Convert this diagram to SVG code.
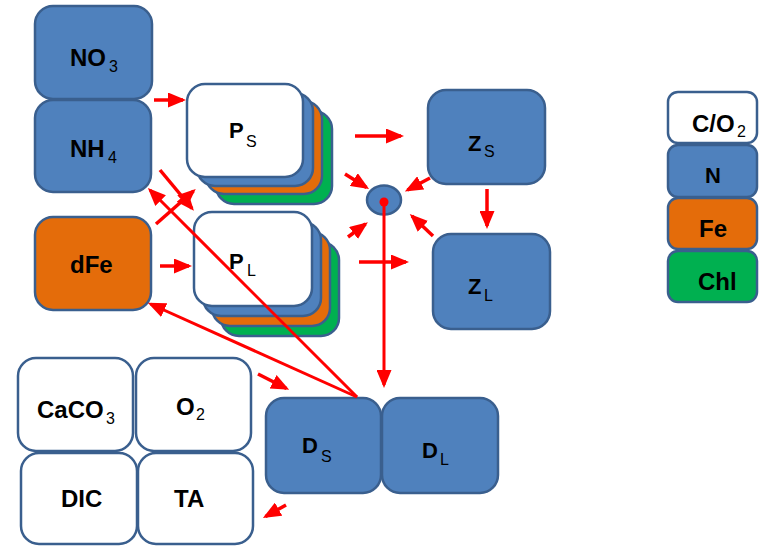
<svg xmlns="http://www.w3.org/2000/svg" width="769" height="546" viewBox="0 0 769 546">
<defs>
<style>
.b{fill:#4F81BD;stroke:#3A5F8E;stroke-width:2.5}
.w{fill:#FFFFFF;stroke:#3A5F8E;stroke-width:2.5}
.o{fill:#E46C0A;stroke:#3A5F8E;stroke-width:2.5}
.g{fill:#00B050;stroke:#3A5F8E;stroke-width:2.5}
.t{font-family:"Liberation Sans",Arial,sans-serif;font-weight:bold;font-size:24px;fill:#000}
.tp{font-family:"Liberation Sans",Arial,sans-serif;font-weight:bold;font-size:22px;fill:#000}
.s{font-weight:normal;font-size:16px}
.a{stroke:#FF0000;stroke-width:3.5;fill:none;marker-end:url(#ah)}
.l{stroke:#FF0000;stroke-width:3;fill:none;marker-end:url(#ah)}
</style>
<marker id="ah" markerUnits="userSpaceOnUse" markerWidth="18" markerHeight="15" refX="15" refY="7.5" orient="auto">
<path d="M0,0 L18,7.5 L0,15 z" fill="#FF0000"/>
</marker>
</defs>
<rect width="769" height="546" fill="#FFFFFF"/>

<g id="NO3"><rect class="b" x="35" y="6" width="117" height="93" rx="18"/><text class="t" x="70" y="66">NO<tspan class="s" x="109" y="72">3</tspan></text></g>
<g id="NH4"><rect class="b" x="35" y="100" width="116" height="92" rx="18"/><text class="t" x="70" y="157">NH<tspan class="s" x="108" y="163">4</tspan></text></g>
<g id="dFe"><rect class="o" x="35" y="217" width="116" height="93" rx="18"/><text class="t" x="70" y="273">dFe</text></g>

<g id="PS">
<rect class="g" x="216" y="111" width="116" height="93" rx="18"/>
<rect class="o" x="206" y="101" width="116" height="93" rx="18"/>
<rect class="b" x="197" y="93" width="116" height="93" rx="18"/>
<rect class="w" x="187" y="84" width="116" height="93" rx="18"/>
<text class="tp" x="229" y="138">P<tspan class="s" x="246" y="147">S</tspan></text>
</g>
<g id="PL">
<rect class="g" x="221" y="242" width="118" height="94" rx="18"/>
<rect class="o" x="212" y="232" width="118" height="94" rx="18"/>
<rect class="b" x="203" y="222" width="118" height="94" rx="18"/>
<rect class="w" x="194" y="212" width="118" height="94" rx="18"/>
<text class="tp" x="229" y="269">P<tspan class="s" x="247" y="276">L</tspan></text>
</g>

<g id="ZS"><rect class="b" x="428" y="90" width="117" height="94" rx="18"/><text class="tp" x="468" y="151">Z<tspan class="s" x="484" y="157">S</tspan></text></g>
<g id="ZL"><rect class="b" x="433" y="234" width="117" height="95" rx="18"/><text class="tp" x="468" y="294">Z<tspan class="s" x="484" y="301">L</tspan></text></g>

<g id="pool"><ellipse cx="384" cy="200" rx="17" ry="14.5" class="b"/><circle cx="384" cy="202" r="4.5" fill="#FF0000"/></g>

<g id="DS"><rect class="b" x="266" y="398" width="115" height="95" rx="18"/><text class="tp" x="302" y="453">D<tspan class="s" x="321" y="462">S</tspan></text></g>
<g id="DL"><rect class="b" x="382" y="398" width="116" height="95" rx="18"/><text class="tp" x="422" y="458">D<tspan class="s" x="440" y="465">L</tspan></text></g>

<g id="CaCO3"><rect class="w" x="18" y="358" width="115" height="93" rx="18"/><text class="t" x="37" y="418">CaCO<tspan class="s" x="106" y="424">3</tspan></text></g>
<g id="O2"><rect class="w" x="136" y="358" width="115" height="93" rx="18"/><text class="t" x="176" y="415">O<tspan class="s" x="196" y="420">2</tspan></text></g>
<g id="DIC"><rect class="w" x="21" y="453" width="116" height="91" rx="18"/><text class="t" x="61" y="507">DIC</text></g>
<g id="TA"><rect class="w" x="138" y="453" width="115" height="91" rx="18"/><text class="t" x="174" y="507">TA</text></g>

<g id="legend">
<g id="leg-CO2"><rect class="w" x="668" y="92" width="89" height="51" rx="10"/><text class="t" x="692" y="132">C/O<tspan class="s" x="737" y="137">2</tspan></text></g>
<g id="leg-N"><rect class="b" x="668" y="145" width="89" height="52" rx="10"/><text class="tp" x="705" y="183">N</text></g>
<g id="leg-Fe"><rect class="o" x="668" y="198" width="89" height="51" rx="10"/><text class="t" x="699" y="237">Fe</text></g>
<g id="leg-Chl"><rect class="g" x="668" y="251" width="89" height="51" rx="10"/><text class="t" x="698" y="290">Chl</text></g>
</g>

<g id="connectors">
<line class="a" x1="154" y1="100" x2="183" y2="100"/>
<line class="a" x1="355" y1="136" x2="401" y2="136"/>
<line class="a" x1="359" y1="262" x2="406" y2="262"/>
<line class="a" x1="487" y1="189" x2="487" y2="226"/>
<line class="a" x1="345" y1="174" x2="366.5" y2="187.5"/>
<line class="a" x1="430" y1="178" x2="407.5" y2="190"/>
<line class="a" x1="348" y1="237" x2="365.5" y2="224"/>
<line class="a" x1="433" y1="236" x2="412" y2="216"/>
<line class="a" x1="160" y1="266" x2="189" y2="266"/>
<line class="a" x1="160" y1="170" x2="192" y2="208.5"/>
<line class="a" x1="156" y1="224" x2="193.5" y2="191"/>
<line class="l" x1="357" y1="397" x2="150" y2="190"/>
<line class="l" x1="357" y1="397" x2="150.5" y2="304"/>
<line class="l" x1="384" y1="202" x2="384" y2="385"/>
<line class="a" x1="258" y1="374" x2="286.5" y2="388.5"/>
<line class="a" x1="286" y1="505" x2="265.5" y2="516.5"/>
</g>
</svg>
